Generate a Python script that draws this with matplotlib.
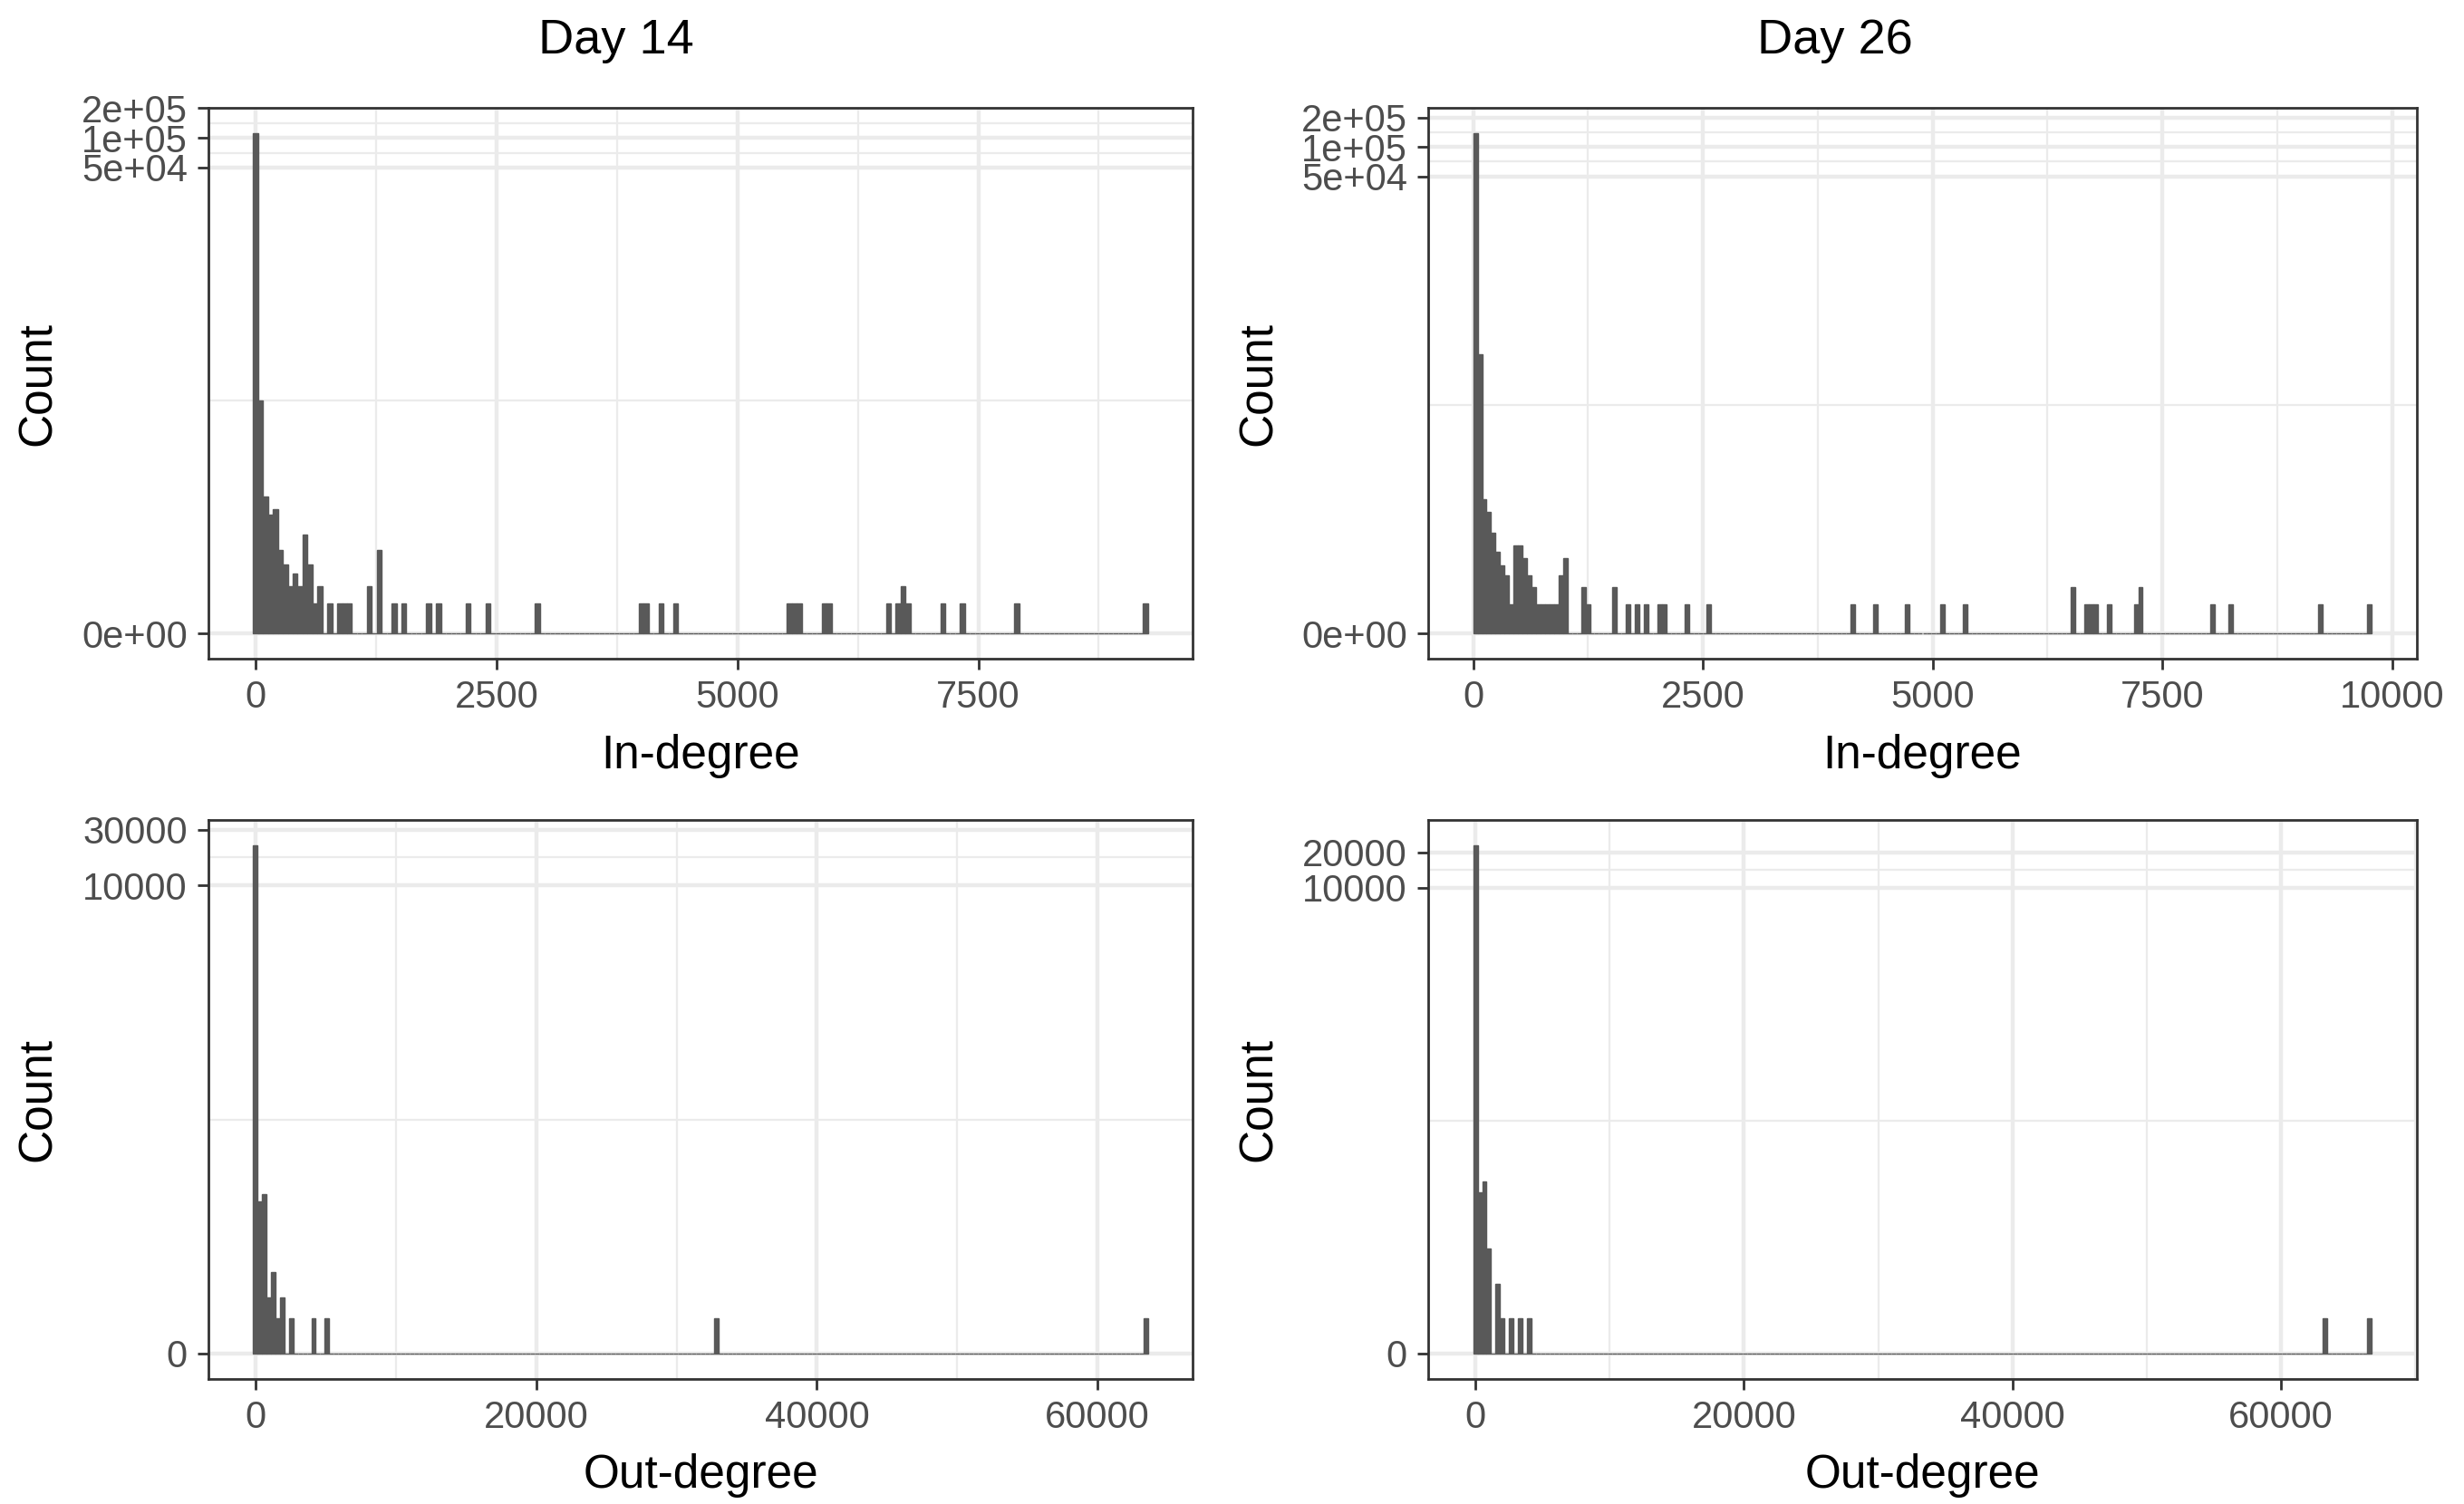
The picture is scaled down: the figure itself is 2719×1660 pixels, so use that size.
#!/usr/bin/env python3
"""
Degree histograms (in / out) for day 14 and day 26, log1p count axis.
"""

import numpy as np
import matplotlib
matplotlib.use("Agg")
import matplotlib.pyplot as plt

plt.rcParams["font.family"] = ["Liberation Sans", "DejaVu Sans"]

# ---- data: non-empty histogram bins (bin index -> count) -------------------
# Day 14, in-degree
d14_in_bins = [0, 1, 2, 3, 4, 5, 6, 7, 8, 9, 10, 11, 12, 13, 15, 17, 18, 19,
               23, 25, 28, 30, 35, 37, 43, 47, 57, 78, 79, 82, 85, 108, 109,
               110, 115, 116, 128, 130, 131, 132, 139, 143, 154, 180]
d14_in_counts = [112000, 224, 23, 15, 17, 6, 4, 2, 3, 2, 9, 4, 1, 2, 1, 1, 1, 1,
                 2, 6, 1, 1, 1, 1, 1, 1, 1, 1, 1, 1, 1, 1, 1,
                 1, 1, 1, 1, 1, 2, 1, 1, 1, 1, 1]
d14_in_width, d14_in_first, d14_in_nbins = 51.3, 0.0, 181

# Day 26, in-degree
d26_in_bins = [0, 1, 2, 3, 4, 5, 6, 7, 8, 9, 10, 11, 12, 13, 14, 15, 16, 17,
               18, 19, 20, 24, 25, 31, 34, 36, 38, 41, 42, 47, 52, 84, 89, 96,
               104, 109, 133, 136, 137, 138, 141, 147, 148, 164, 168, 188, 199]
d26_in_counts = [140000, 740, 23, 17, 10, 6, 4, 3, 1, 7, 7, 5, 3, 2, 1, 1, 1, 1,
                 1, 3, 5, 2, 1, 2, 1, 1, 1, 1, 1, 1, 1, 1, 1, 1,
                 1, 1, 2, 1, 1, 1, 1, 1, 2, 1, 1, 1, 1]
d26_in_width, d26_in_first, d26_in_nbins = 48.9, 24.45, 200

# Day 14, out-degree
d14_out_bins = [0, 1, 2, 3, 4, 5, 6, 8, 13, 16, 103, 199]
d14_out_counts = [22000, 19, 22, 2, 4, 1, 2, 1, 1, 1, 1, 1]
d14_out_width, d14_out_first, d14_out_nbins = 318.7, 0.0, 200

# Day 26, out-degree
d26_out_bins = [0, 1, 2, 3, 5, 6, 8, 10, 12, 189, 199]
d26_out_counts = [23000, 23, 29, 7, 3, 1, 1, 1, 1, 1, 1]
d26_out_width, d26_out_first, d26_out_nbins = 334.7, 0.0, 200

# ---- axis breaks ----------------------------------------------------------
in_xticks_14 = [0, 2500, 5000, 7500]
in_xticks_26 = [0, 2500, 5000, 7500, 10000]
out_xticks = [0, 20000, 40000, 60000]
in_yticks = [0, 5e4, 1e5, 2e5]
in_ylabels = ["0e+00", "5e+04", "1e+05", "2e+05"]
out_yticks_14 = [0, 10000, 30000]
out_yticks_26 = [0, 10000, 20000]

BAR = "#595959"
GRID = "#EBEBEB"
DARK = "#333333"
TICKTXT = "#4D4D4D"


def fwd(y):
    y = np.asarray(y, dtype=float)
    return np.log10(1.0 + np.clip(y, -0.999999, None))


def inv(t):
    return 10.0 ** np.asarray(t, dtype=float) - 1.0


def minor_breaks(major, lo, hi):
    # ggplot-style: midpoints between majors (in transformed space)
    b = list(major)
    bd = b[1] - b[0]
    if lo < b[0]:
        b = [b[0] - bd] + b
    if hi > b[-1]:
        b = b + [b[-1] + bd]
    mids = [(a + c) / 2 for a, c in zip(b[:-1], b[1:])]
    return [m for m in mids if lo <= m <= hi]


def panel(ax, bins, counts, width, first, nbins, xticks, yticks, ylabels, xlabel):
    full = np.zeros(nbins)
    full[np.asarray(bins)] = counts
    centres = first + width * np.arange(nbins)

    ax.set_yscale("function", functions=(fwd, inv))
    ax.bar(centres, full, width=width, color=BAR, edgecolor=BAR,
           linewidth=0.5, align="center", zorder=2)

    # limits with 5% expansion (x linear, y in log1p space)
    lo, hi = centres[0] - width / 2, centres[-1] + width / 2
    pad = 0.05 * (hi - lo)
    ax.set_xlim(lo - pad, hi + pad)
    top = float(fwd(full.max()))
    ylo, yhi = -0.05 * top, 1.05 * top
    ax.set_ylim(float(inv(ylo)), float(inv(yhi)))

    ax.set_xticks(xticks)
    ax.set_xticks(minor_breaks(xticks, lo - pad, hi + pad), minor=True)
    ax.set_yticks(yticks, labels=ylabels)
    ymin = minor_breaks(list(fwd(yticks)), ylo, yhi)
    ax.set_yticks(list(inv(ymin)), minor=True)

    ax.grid(which="major", color=GRID, linewidth=1.6, zorder=0)
    ax.grid(which="minor", color=GRID, linewidth=0.8, zorder=0)
    ax.set_axisbelow(True)

    for s in ax.spines.values():
        s.set_color(DARK)
        s.set_linewidth(1.0)
    ax.tick_params(which="major", length=4.3, width=1.0, color=DARK,
                   labelsize=15, labelcolor=TICKTXT, pad=4)
    ax.tick_params(which="minor", length=0)

    ax.set_xlabel(xlabel, fontsize=18.5)
    ax.set_ylabel("Count", fontsize=18.5)
    ax.xaxis.label.set_va("center")
    ax.yaxis.label.set_va("center")


W, H = 2719, 1660
fig = plt.figure(figsize=(W / 200, H / 200), dpi=200)


def box(l, t, r, b):
    return [l / W, 1 - b / H, (r - l) / W, (b - t) / H]


ax_tl = fig.add_axes(box(230, 119, 1316, 727))
ax_tr = fig.add_axes(box(1576, 119, 2667, 727))
ax_bl = fig.add_axes(box(230, 905, 1316, 1522))
ax_br = fig.add_axes(box(1576, 905, 2667, 1522))

panel(ax_tl, d14_in_bins, d14_in_counts, d14_in_width, d14_in_first,
      d14_in_nbins, in_xticks_14, in_yticks, in_ylabels, "In-degree")
panel(ax_tr, d26_in_bins, d26_in_counts, d26_in_width, d26_in_first,
      d26_in_nbins, in_xticks_26, in_yticks, in_ylabels, "In-degree")
panel(ax_bl, d14_out_bins, d14_out_counts, d14_out_width, d14_out_first,
      d14_out_nbins, out_xticks, out_yticks_14,
      [str(v) for v in out_yticks_14], "Out-degree")
panel(ax_br, d26_out_bins, d26_out_counts, d26_out_width, d26_out_first,
      d26_out_nbins, out_xticks, out_yticks_26,
      [str(v) for v in out_yticks_26], "Out-degree")

# label placement
ax_tl.xaxis.set_label_coords(0.5, -0.176)
ax_tr.xaxis.set_label_coords(0.5, -0.176)
ax_bl.xaxis.set_label_coords(0.5, -0.172)
ax_br.xaxis.set_label_coords(0.5, -0.172)
ax_tl.yaxis.set_label_coords(-0.173, 0.5)
ax_tr.yaxis.set_label_coords(-0.171, 0.5)
ax_bl.yaxis.set_label_coords(-0.173, 0.5)
ax_br.yaxis.set_label_coords(-0.171, 0.5)

fig.text(680 / W, 1 - 45 / H, "Day 14", ha="center", va="center", fontsize=19.5)
fig.text(2025 / W, 1 - 45 / H, "Day 26", ha="center", va="center", fontsize=19.5)

fig.savefig("out.png", dpi=200)
